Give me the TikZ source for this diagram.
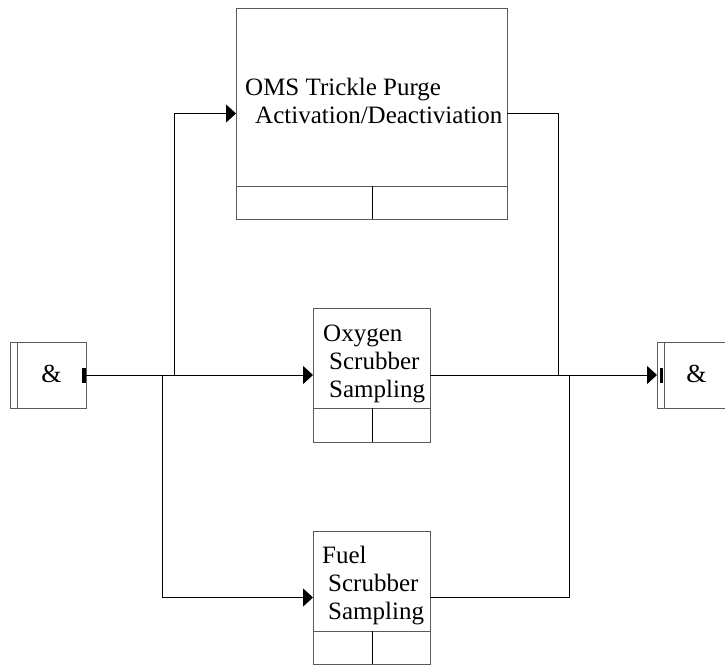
\documentclass[tikz,border=0pt]{standalone}
\usepackage{fontspec}
\setmainfont{Liberation Serif}
\usetikzlibrary{arrows.meta}
\definecolor{boxgray}{RGB}{90,90,90}
\tikzset{
  x=1pt, y=-1pt,
  procbox/.style={draw=boxgray, line width=1pt, rectangle, inner sep=0pt, outer sep=0pt},
  split/.style={line width=1pt, black},
  divider/.style={line width=1pt, draw=boxgray},
  wire/.style={line width=1pt, black},
  arr/.style={wire, -{Triangle[length=10pt,width=18pt]}},
  lbl/.style={font=\fontsize{25}{28}\selectfont, align=left, inner sep=0pt, anchor=base west},
  amp/.style={font=\fontsize{26}{28}\selectfont, inner sep=0pt},
  bar/.style={fill=black, draw=none}
}
\begin{document}
\begin{tikzpicture}
\useasboundingbox (0,0) rectangle (725,664);
% boxes
\node[procbox, minimum width=271pt, minimum height=211pt] (oms) at (371.5,113.5) {};
\node[procbox, minimum width=117pt, minimum height=134pt] (oxy) at (371.5,375) {};
\node[procbox, minimum width=117pt, minimum height=133pt] (fuel) at (371.5,597.5) {};
\node[procbox, minimum width=76pt, minimum height=66pt] (andL) at (48,375) {};
\node[procbox, minimum width=72pt, minimum height=66pt] (andR) at (693,375) {};
% internal dividers
\draw[divider] (236,186) -- (507,186);
\draw[split] (372,186) -- (372,219);
\draw[divider] (313,408) -- (430,408);
\draw[split] (372,408) -- (372,442);
\draw[divider] (313,631) -- (430,631);
\draw[split] (372,631) -- (372,664);
\draw[divider] (17,342) -- (17,408);
\draw[divider] (664,342) -- (664,408);
% texts
\node[lbl] (tOms1) at (245,95) {OMS Trickle Purge};
\node[lbl] (tOms2) at (255,123) {Activation/Deactiviation};
\node[lbl] (tOxy1) at (323,341.5) {Oxygen};
\node[lbl] (tOxy2) at (329,369.5) {Scrubber};
\node[lbl] (tOxy3) at (329,397.5) {Sampling};
\node[lbl] (tFuel1) at (322,563) {Fuel};
\node[lbl] (tFuel2) at (328,591) {Scrubber};
\node[lbl] (tFuel3) at (328,619) {Sampling};
\node[amp] (ampL) at (51.5,374) {\&};
\node[amp] (ampR) at (696.5,374) {\&};
% bars
\fill[bar] (82,368) rectangle (85.5,383);
\fill[bar] (659.5,368) rectangle (663,383);
% junction coordinates
\coordinate (jA) at (174,375);
\coordinate (jB) at (162,375);
\coordinate (jC) at (558,375);
\coordinate (jD) at (569,375);
% connectors
\draw[arr] (andL.east |- jA) -- (oxy.west |- jA);
\draw[arr] (jA) |- (oms.west);
\draw[arr] (jB) |- (fuel.west);
\draw[wire] (oms.east) -| (jC);
\draw[arr] (oxy.east |- jA) -- (andR.west |- jA);
\draw[wire] (fuel.east) -| (jD);
\end{tikzpicture}
\end{document}
